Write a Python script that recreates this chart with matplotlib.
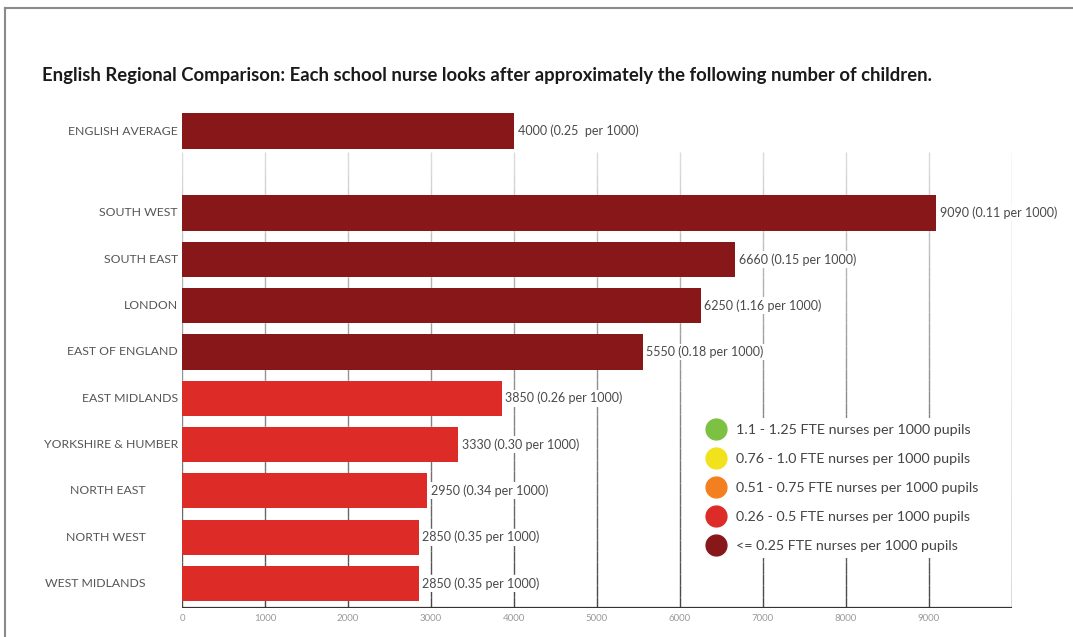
import numpy as np
import matplotlib
matplotlib.use("Agg")
from matplotlib import pyplot as plt
from matplotlib.collections import LineCollection
from matplotlib.lines import Line2D

plt.rcParams['font.family'] = ['Lato', 'DejaVu Sans']

# data
regions = ["SOUTH WEST", "SOUTH EAST", "LONDON", "EAST OF ENGLAND", "EAST MIDLANDS",
           "YORKSHIRE & HUMBER", "NORTH EAST", "NORTH WEST", "WEST MIDLANDS"]
children = [9090, 6660, 6250, 5550, 3850, 3330, 2950, 2850, 2850]
rates = ["0.11", "0.15", "1.16", "0.18", "0.26", "0.30", "0.34", "0.35", "0.35"]
bands = [4, 4, 4, 4, 3, 3, 3, 3, 3]   # index into legend bands

avg_label = "ENGLISH AVERAGE"
avg_children = 4000
avg_rate = "0.25 "
avg_band = 4

band_labels = ["1.1 - 1.25 FTE nurses per 1000 pupils",
               "0.76 - 1.0 FTE nurses per 1000 pupils",
               "0.51 - 0.75 FTE nurses per 1000 pupils",
               "0.26 - 0.5 FTE nurses per 1000 pupils",
               "<= 0.25 FTE nurses per 1000 pupils"]
band_colors = ["#7cc142", "#f2e21c", "#f47f20", "#dd2c28", "#88171a"]

xticks = [0, 1000, 2000, 3000, 4000, 5000, 6000, 7000, 8000, 9000]

W, H = 1073, 637
fig = plt.figure(figsize=(W / 100, H / 100), dpi=100)

# page border (top and left)
fig.add_artist(Line2D([5 / W, 5 / W], [0, 1 - 8 / H], color="#8a8a8a", lw=1.5))
fig.add_artist(Line2D([5 / W, 1], [1 - 8 / H, 1 - 8 / H], color="#8a8a8a", lw=1.5))

ax = fig.add_axes([182 / W, 1 - 608 / H, (1012 - 182) / W, (608 - 100) / H])
ax.set_xlim(0, 10000)
ax.set_ylim(8.53, -2.44)
for s in ax.spines.values():
    s.set_visible(False)

# gradient grid lines
y_top, y_bot = -1.32, 8.53
n = 40
ys = np.linspace(y_top, y_bot, n + 1)
shade = np.linspace(0.86, 0.28, n)
segs, cols = [], []
for gx in xticks + [10000]:
    for k in range(n):
        segs.append([(gx, ys[k]), (gx, ys[k + 1])])
        cols.append((shade[k], shade[k], shade[k]))
ax.add_collection(LineCollection(segs, colors=cols, linewidths=1.0, zorder=1))
ax.plot([0, 10000], [y_bot, y_bot], color="#333333", lw=1.6, zorder=3, solid_capstyle='butt')

ypos = np.arange(len(regions))
avg_y = -1.77
ax.barh(ypos, children, height=0.76, color=[band_colors[b] for b in bands], zorder=2)
ax.barh([avg_y], [avg_children], height=0.76, color=band_colors[avg_band], zorder=2)

box = dict(facecolor='white', edgecolor='none', pad=1.5)
for y, v, r in zip(ypos, children, rates):
    ax.text(v + 45, y, f"{v} ({r} per 1000)", va='center', ha='left',
            fontsize=9, color="#4a4a4a", bbox=box, zorder=4)
ax.text(avg_children + 45, avg_y, f"{avg_children} ({avg_rate} per 1000)", va='center',
        ha='left', fontsize=9, color="#4a4a4a", zorder=4)

# category labels
ax.set_yticks([])
for i, (y, name) in enumerate(zip(ypos, regions)):
    xo = -50 if i < 6 else -440
    ax.text(xo, y, name, ha='right', va='center', fontsize=8.8, color="#555555")
ax.text(-50, avg_y, avg_label, ha='right', va='center', fontsize=8.8, color="#555555")

ax.set_xticks(xticks)
ax.set_xticklabels([str(t) for t in xticks], fontsize=7, color="#9a9a9a")
ax.tick_params(axis='x', length=0, pad=4)

fig.text(42 / W, 1 - 75 / H,
         "English Regional Comparison: Each school nurse looks after approximately the following number of children.",
         fontsize=13.3, fontweight='bold', color="#1a1a1a", va='center', ha='left')

handles = [Line2D([], [], marker='o', linestyle='', markersize=15, color=c) for c in band_colors]
leg = fig.legend(handles, band_labels, loc='upper left', bbox_to_anchor=(702 / W, 1 - 418 / H),
                 frameon=True, fontsize=10.3, labelcolor="#444444", handletextpad=0.75,
                 labelspacing=1.2, handlelength=1.2, borderpad=0.4, borderaxespad=0)
leg.get_frame().set_facecolor('white')
leg.get_frame().set_edgecolor('none')
leg.get_frame().set_alpha(1)

fig.savefig("out.png", dpi=100)
